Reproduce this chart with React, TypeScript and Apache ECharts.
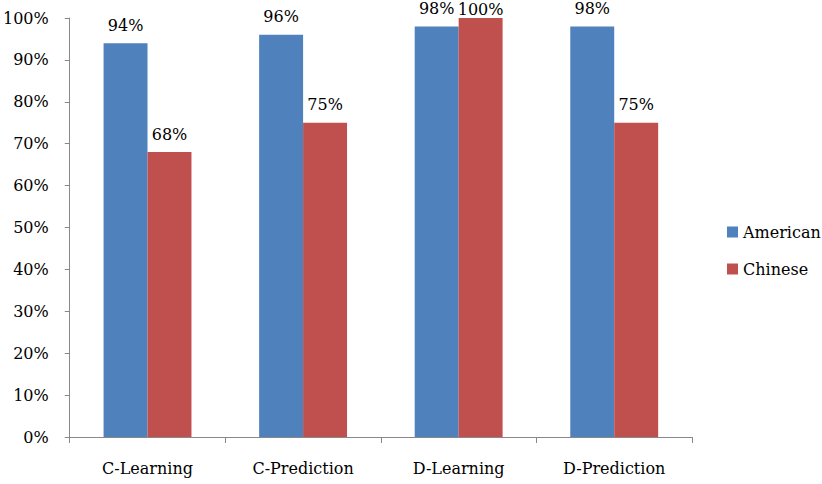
import React, { useEffect, useRef } from "react";
import * as echarts from "echarts";

const categories = ["C-Learning", "C-Prediction", "D-Learning", "D-Prediction"];
const americanValues = [94, 96, 98, 98];
const chineseValues = [68, 75, 100, 75];
const seriesNames = ["American", "Chinese"];

const FONT = "DejaVu Serif";

// Labels sitting on a full-height bar are pulled closer so they stay on the canvas.
const withLabelFit = (values: number[]) =>
  values.map((v) => (v >= 100 ? { value: v, label: { distance: 1 } } : v));

export default function App() {
  const ref = useRef<HTMLDivElement>(null);

  useEffect(() => {
    if (!ref.current) return;
    const chart = echarts.init(ref.current, null, { renderer: "svg" });
    const labelStyle = {
      show: true,
      position: "top" as const,
      formatter: "{c}%",
      fontFamily: FONT,
      fontSize: 16,
      color: "#000",
      distance: 10,
    };
    chart.setOption({
      animation: false,
      backgroundColor: "#fff",
      grid: { left: 69, right: 130, top: 18, bottom: 47 },
      legend: {
        orient: "vertical",
        left: 722,
        top: 219,
        itemWidth: 11,
        itemHeight: 11,
        itemGap: 21,
        icon: "rect",
        textStyle: { fontFamily: FONT, fontSize: 16, color: "#000" },
        data: seriesNames,
      },
      xAxis: {
        type: "category",
        data: categories,
        axisLine: { lineStyle: { color: "#888", width: 1 } },
        axisTick: { show: true, length: 6, lineStyle: { color: "#888" } },
        axisLabel: {
          fontFamily: FONT,
          fontSize: 16,
          color: "#000",
          margin: 23,
        },
      },
      yAxis: {
        type: "value",
        min: 0,
        max: 100,
        interval: 10,
        axisLine: { show: true, lineStyle: { color: "#888", width: 1 } },
        axisTick: { show: true, length: 5, lineStyle: { color: "#888" } },
        splitLine: { show: false },
        axisLabel: {
          formatter: "{value}%",
          fontFamily: FONT,
          fontSize: 16,
          color: "#000",
          margin: 21,
        },
      },
      series: [
        {
          name: seriesNames[0],
          type: "bar",
          data: withLabelFit(americanValues),
          itemStyle: { color: "#4f81bd" },
          barGap: "0%",
          barCategoryGap: "43.5%",
          label: labelStyle,
        },
        {
          name: seriesNames[1],
          type: "bar",
          data: withLabelFit(chineseValues),
          itemStyle: { color: "#c0504d" },
          barGap: "0%",
          barCategoryGap: "43.5%",
          label: labelStyle,
        },
      ],
    });
    return () => chart.dispose();
  }, []);

  return (
    <div
      ref={ref}
      style={{ position: "fixed", left: 0, top: 0, width: 822, height: 484 }}
    />
  );
}
